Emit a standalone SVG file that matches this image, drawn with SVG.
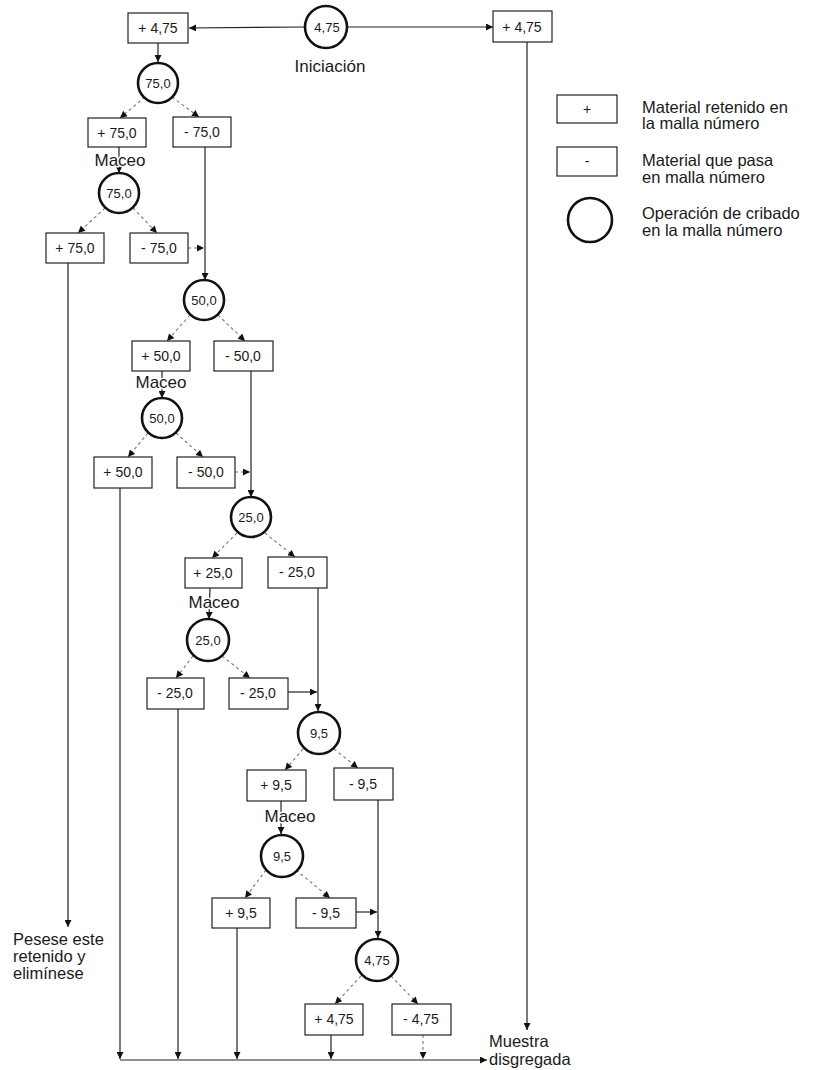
<svg xmlns="http://www.w3.org/2000/svg" width="815" height="1070" viewBox="0 0 815 1070">
<style>
.bx rect{fill:#fff;stroke:#222;stroke-width:1.2}
.cr circle{fill:#fff;stroke:#111;stroke-width:2.6}
text{font-family:"Liberation Sans",Arial,sans-serif;fill:#1a1a1a}
.lb{font-size:14px;text-anchor:middle;dominant-baseline:central}
.cl{font-size:13px;text-anchor:middle;dominant-baseline:central}
.t{font-size:16.5px}
.tc{font-size:17px;text-anchor:middle;paint-order:stroke;stroke:#fff;stroke-width:3px}
.s{stroke:#222;stroke-width:1.2;fill:none}
.d{stroke:#777;stroke-width:1.1;stroke-dasharray:3 3;fill:none}
</style>
<defs>
<marker id="a" viewBox="0 0 10 10" refX="10" refY="5" markerWidth="8" markerHeight="7" orient="auto" markerUnits="userSpaceOnUse"><path d="M0,0 L10,5 L0,10 z" fill="#111"/></marker>
</defs>
<g id="connectors">
<line class="s" x1="305" y1="27" x2="189" y2="28" marker-end="url(#a)"/>
<line class="s" x1="347" y1="27" x2="493" y2="27" marker-end="url(#a)"/>
<line class="s" x1="158" y1="43" x2="158" y2="62" marker-end="url(#a)"/>
<line class="d" x1="145" y1="97" x2="120" y2="118" marker-end="url(#a)"/>
<line class="d" x1="172" y1="97" x2="199" y2="117" marker-end="url(#a)"/>
<line class="s" x1="119" y1="147" x2="119" y2="173" marker-end="url(#a)"/>
<line class="d" x1="105" y1="208" x2="78" y2="233" marker-end="url(#a)"/>
<line class="d" x1="133" y1="208" x2="157" y2="233" marker-end="url(#a)"/>
<line class="s" x1="205" y1="147" x2="205" y2="280" marker-end="url(#a)"/>
<line class="d" x1="188" y1="248" x2="204" y2="248" marker-end="url(#a)"/>
<line class="s" x1="68" y1="263" x2="68" y2="927" marker-end="url(#a)"/>
<line class="d" x1="190" y1="315" x2="167" y2="341" marker-end="url(#a)"/>
<line class="d" x1="218" y1="315" x2="245" y2="341" marker-end="url(#a)"/>
<line class="s" x1="162" y1="371" x2="162" y2="398" marker-end="url(#a)"/>
<line class="d" x1="148" y1="433" x2="128" y2="457" marker-end="url(#a)"/>
<line class="d" x1="176" y1="433" x2="203" y2="457" marker-end="url(#a)"/>
<line class="s" x1="251" y1="371" x2="251" y2="497" marker-end="url(#a)"/>
<line class="d" x1="235" y1="472" x2="250" y2="472" marker-end="url(#a)"/>
<line class="s" x1="120" y1="488" x2="120" y2="1059" marker-end="url(#a)"/>
<line class="d" x1="237" y1="533" x2="212" y2="558" marker-end="url(#a)"/>
<line class="d" x1="265" y1="533" x2="295" y2="557" marker-end="url(#a)"/>
<line class="s" x1="210" y1="588" x2="209" y2="619" marker-end="url(#a)"/>
<line class="d" x1="193" y1="656" x2="176" y2="678" marker-end="url(#a)"/>
<line class="d" x1="222" y1="656" x2="250" y2="678" marker-end="url(#a)"/>
<line class="s" x1="318" y1="588" x2="318" y2="711" marker-end="url(#a)"/>
<line class="s" x1="288" y1="692" x2="317" y2="692" marker-end="url(#a)"/>
<line class="s" x1="178" y1="709" x2="178" y2="1059" marker-end="url(#a)"/>
<line class="d" x1="303" y1="749" x2="285" y2="770" marker-end="url(#a)"/>
<line class="d" x1="334" y1="749" x2="358" y2="768" marker-end="url(#a)"/>
<line class="s" x1="281" y1="801" x2="281" y2="834" marker-end="url(#a)"/>
<line class="d" x1="266" y1="870" x2="245" y2="898" marker-end="url(#a)"/>
<line class="d" x1="296" y1="870" x2="330" y2="898" marker-end="url(#a)"/>
<line class="s" x1="378" y1="800" x2="378" y2="938" marker-end="url(#a)"/>
<line class="s" x1="356" y1="912" x2="377" y2="912" marker-end="url(#a)"/>
<line class="s" x1="237" y1="928" x2="237" y2="1059" marker-end="url(#a)"/>
<line class="d" x1="361" y1="976" x2="335" y2="1004" marker-end="url(#a)"/>
<line class="d" x1="391" y1="976" x2="418" y2="1004" marker-end="url(#a)"/>
<line class="s" x1="331" y1="1035" x2="331" y2="1059" marker-end="url(#a)"/>
<line class="d" x1="423" y1="1035" x2="423" y2="1059" marker-end="url(#a)"/>
<line class="s" x1="120" y1="1060" x2="487" y2="1060" marker-end="url(#a)"/>
<line class="s" x1="527" y1="42" x2="527" y2="1030" marker-end="url(#a)"/>
</g>
<g id="n_box_p475a" class="bx"><rect x="128" y="13" width="60" height="30"/><text class="lb" x="158" y="28">+ 4,75</text></g>
<g id="n_c475" class="cr"><circle cx="326" cy="27" r="21"/><text class="cl" x="327" y="27">4,75</text></g>
<g id="n_box_p475b" class="bx"><rect x="493" y="11" width="59" height="31"/><text class="lb" x="522" y="27">+ 4,75</text></g>
<g id="n_inic"><text class="tc" x="330" y="72">Iniciación</text></g>

<g id="n_c750a" class="cr"><circle cx="158" cy="83" r="20"/><text class="cl" x="158" y="83">75,0</text></g>
<g id="n_box_p750a" class="bx"><rect x="88" y="118" width="58" height="29"/><text class="lb" x="117" y="133">+ 75,0</text></g>
<g id="n_box_m750a" class="bx"><rect x="173" y="117" width="58" height="30"/><text class="lb" x="202" y="132">- 75,0</text></g>
<g id="n_maceo1"><text class="tc" x="120" y="166">Maceo</text></g>
<g id="n_c750b" class="cr"><circle cx="119" cy="193" r="20"/><text class="cl" x="119" y="193">75,0</text></g>
<g id="n_box_p750b" class="bx"><rect x="46" y="233" width="58" height="30"/><text class="lb" x="75" y="248">+ 75,0</text></g>
<g id="n_box_m750b" class="bx"><rect x="130" y="233" width="58" height="30"/><text class="lb" x="159" y="248">- 75,0</text></g>

<g id="n_c500a" class="cr"><circle cx="204" cy="300" r="20"/><text class="cl" x="204" y="300">50,0</text></g>
<g id="n_box_p500a" class="bx"><rect x="132" y="341" width="58" height="30"/><text class="lb" x="161" y="356">+ 50,0</text></g>
<g id="n_box_m500a" class="bx"><rect x="214" y="341" width="59" height="30"/><text class="lb" x="243" y="356">- 50,0</text></g>
<g id="n_maceo2"><text class="tc" x="161" y="388">Maceo</text></g>
<g id="n_c500b" class="cr"><circle cx="162" cy="418" r="20"/><text class="cl" x="162" y="418">50,0</text></g>
<g id="n_box_p500b" class="bx"><rect x="94" y="457" width="58" height="31"/><text class="lb" x="123" y="472">+ 50,0</text></g>
<g id="n_box_m500b" class="bx"><rect x="177" y="457" width="58" height="31"/><text class="lb" x="206" y="472">- 50,0</text></g>

<g id="n_c250a" class="cr"><circle cx="251" cy="517" r="20"/><text class="cl" x="251" y="517">25,0</text></g>
<g id="n_box_p250a" class="bx"><rect x="185" y="558" width="57" height="30"/><text class="lb" x="213" y="573">+ 25,0</text></g>
<g id="n_box_m250a" class="bx"><rect x="268" y="557" width="59" height="31"/><text class="lb" x="297" y="572">- 25,0</text></g>
<g id="n_maceo3"><text class="tc" x="214" y="608">Maceo</text></g>
<g id="n_c250b" class="cr"><circle cx="208" cy="640" r="21"/><text class="cl" x="208" y="640">25,0</text></g>
<g id="n_box_m250b" class="bx"><rect x="147" y="678" width="57" height="31"/><text class="lb" x="175" y="693">- 25,0</text></g>
<g id="n_box_m250c" class="bx"><rect x="229" y="678" width="59" height="31"/><text class="lb" x="258" y="693">- 25,0</text></g>

<g id="n_c95a" class="cr"><circle cx="319" cy="733" r="21"/><text class="cl" x="319" y="733">9,5</text></g>
<g id="n_box_p95a" class="bx"><rect x="247" y="770" width="59" height="31"/><text class="lb" x="276" y="785">+ 9,5</text></g>
<g id="n_box_m95a" class="bx"><rect x="334" y="768" width="59" height="32"/><text class="lb" x="363" y="784">- 9,5</text></g>
<g id="n_maceo4"><text class="tc" x="290" y="822">Maceo</text></g>
<g id="n_c95b" class="cr"><circle cx="282" cy="856" r="21"/><text class="cl" x="282" y="856">9,5</text></g>
<g id="n_box_p95b" class="bx"><rect x="212" y="898" width="58" height="30"/><text class="lb" x="241" y="913">+ 9,5</text></g>
<g id="n_box_m95b" class="bx"><rect x="296" y="898" width="60" height="30"/><text class="lb" x="326" y="913">- 9,5</text></g>

<g id="n_c475b" class="cr"><circle cx="377" cy="960" r="21"/><text class="cl" x="377" y="960">4,75</text></g>
<g id="n_box_p475c" class="bx"><rect x="305" y="1004" width="58" height="31"/><text class="lb" x="334" y="1019">+ 4,75</text></g>
<g id="n_box_m475" class="bx"><rect x="392" y="1004" width="59" height="31"/><text class="lb" x="421" y="1019">- 4,75</text></g>

<g id="n_pesese"><text class="t" x="13" y="945">Pesese este</text><text class="t" x="13" y="962">retenido y</text><text class="t" x="13" y="979">elimínese</text></g>
<g id="n_muestra"><text class="t" x="489" y="1047">Muestra</text><text class="t" x="489" y="1065">disgregada</text></g>

<g id="legend">
<g id="lg_plus" class="bx"><rect x="557" y="95" width="60" height="28"/><text class="lb" x="587" y="109">+</text></g>
<text class="t" x="642" y="113">Material retenido en</text>
<text class="t" x="642" y="129">la malla número</text>
<g id="lg_minus" class="bx"><rect x="557" y="147" width="60" height="29"/><text class="lb" x="587" y="161">-</text></g>
<text class="t" x="642" y="166">Material que pasa</text>
<text class="t" x="642" y="183">en malla número</text>
<g id="lg_circle" class="cr"><circle cx="590" cy="220" r="22"/></g>
<text class="t" x="642" y="219">Operación de cribado</text>
<text class="t" x="642" y="236">en la malla número</text>
</g>
</svg>
